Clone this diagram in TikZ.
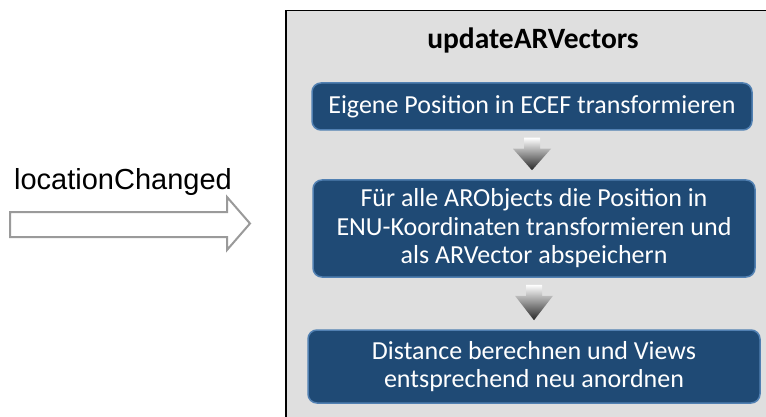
\documentclass[tikz,border=0pt]{standalone}
\usepackage{fontspec}
\setmainfont{Carlito}
\newfontfamily\arialfont{Liberation Sans}
\usetikzlibrary{calc}
\definecolor{stepblue}{HTML}{1F4A75}
\definecolor{stepedge}{HTML}{5180B2}
\definecolor{panelgray}{HTML}{DFDFDF}
\definecolor{eventgray}{HTML}{9A9A9A}

% shaded down arrow placed between two step boxes
\newcommand{\flowarrow}[2]{%
  \shade[top color=white, bottom color=black!85]
    ($(#1.south)+(-8,7)$) -- ($(#1.south)+(8,7)$) -- ($(#1.south)+(8,18)$)
    -- ($(#1.south)+(19,18)$) -- ($(#1.south |- #2.north)+(0,-9)$)
    -- ($(#1.south)+(-19,18)$) -- ($(#1.south)+(-8,18)$) -- cycle;}

\begin{document}
\begin{tikzpicture}[x=1pt,y=-1pt,
  stepbox/.style={draw=stepedge, line width=1.5pt, fill=stepblue,
    rounded corners=9pt, text=white, align=center, inner sep=0pt,
    font=\fontsize{26}{28.5}\selectfont},
  panelbox/.style={draw=black, line width=1.5pt, fill=panelgray,
    anchor=north west, inner sep=0pt},
  eventarrow/.style={draw=eventgray, line width=2pt, fill=white}]
\useasboundingbox (0,0) rectangle (766,417);
\clip (0,0) rectangle (766,417);
\fill[white] (0,0) rectangle (766,417);

% container of the update routine
\node[panelbox, minimum width=520pt, minimum height=440pt] (panel) at (285,10) {};
\node[font=\fontsize{29.5}{32}\selectfont\bfseries] (title) at (533,40) {updateARVectors};

% processing steps
\node[stepbox, minimum width=440pt, minimum height=47pt] (s1) at (532,106.5)
  {Eigene Position in ECEF transformieren};
\node[stepbox, minimum width=442pt, minimum height=97pt] (s2) at (534,228.5)
  {Für alle ARObjects die Position in\\ENU-Koordinaten transformieren und\\als ARVector abspeichern};
\node[stepbox, minimum width=452pt, minimum height=73pt] (s3) at (534,366.5)
  {Distance berechnen und Views\\entsprechend neu anordnen};

\flowarrow{s1}{s2}
\flowarrow{s2}{s3}

% incoming event
\node[font=\arialfont\fontsize{29}{32}\selectfont] (event) at (123,182) {locationChanged};
\coordinate (tail) at (10,224.5);
\coordinate (tip) at (250,223.5);
\draw[eventarrow] ($(tail)+(0,-12.5)$) -- ($(tail)+(217,-12.5)$) -- ($(tail)+(217,-27.5)$)
  -- (tip) -- ($(tail)+(217,25.5)$) -- ($(tail)+(217,12.5)$) -- ($(tail)+(0,12.5)$) -- cycle;
\end{tikzpicture}
\end{document}
